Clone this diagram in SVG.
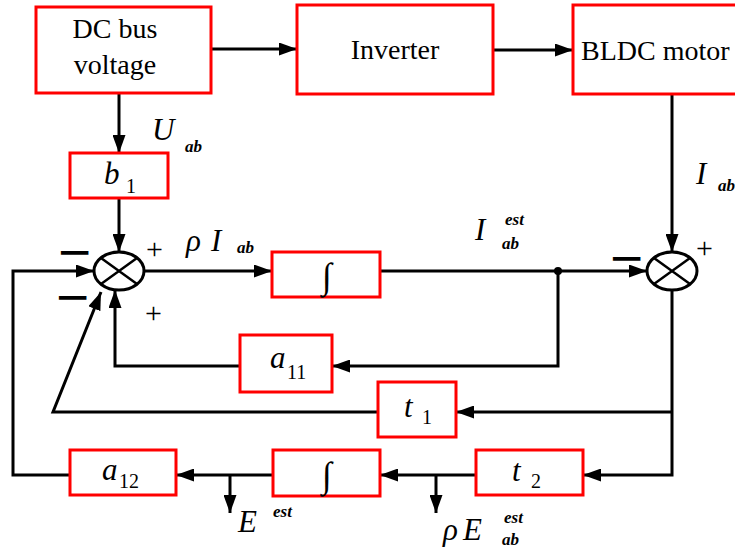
<svg xmlns="http://www.w3.org/2000/svg" width="735" height="552" viewBox="0 0 735 552">
<defs>
<style>
.box{fill:#fff;stroke:#ff0000;stroke-width:3}
.sum{fill:#fff;stroke:#000;stroke-width:3}
.ln{fill:none;stroke:#000;stroke-width:3}
.w{stroke:#000;stroke-width:2.5;fill:none}
.t{font-family:"Liberation Serif","Times New Roman",serif;font-size:28px;fill:#000}
.int{font-family:"Liberation Serif","Times New Roman",serif;font-size:36px;fill:#000}
.mi{font-family:"Liberation Serif","Times New Roman",serif;font-size:31px;font-style:italic;fill:#000}
.sub{font-family:"Liberation Serif","Times New Roman",serif;font-size:17px;font-style:italic;font-weight:bold;fill:#000}
.num{font-family:"Liberation Serif","Times New Roman",serif;font-size:20px;fill:#000}
.sg{font-family:"Liberation Serif","Times New Roman",serif;font-size:30px;fill:#000}
.mn{font-family:"Liberation Sans",Arial,sans-serif;font-size:34px;font-weight:bold;fill:#000}
</style>
<marker id="ah" markerUnits="userSpaceOnUse" markerWidth="18" markerHeight="13" refX="18" refY="6.5" orient="auto">
<path d="M0,0 L18,6.5 L0,13 z" fill="#000"/>
</marker>
</defs>
<rect width="735" height="552" fill="#fff"/>

<g id="connectors">
<path class="ln" d="M211,49 H297" marker-end="url(#ah)"/>
<path class="ln" d="M493,50 H573" marker-end="url(#ah)"/>
<path class="ln" d="M119,93 V153" marker-end="url(#ah)"/>
<path class="ln" d="M119,198 V252" marker-end="url(#ah)"/>
<path class="ln" d="M144,271 H272" marker-end="url(#ah)"/>
<path class="ln" d="M380,271 H647" marker-end="url(#ah)"/>
<circle cx="558" cy="271" r="4" fill="#000"/>
<path class="ln" d="M558,271 V366 H332" marker-end="url(#ah)"/>
<path class="ln" d="M240,366 H115 V290" marker-end="url(#ah)"/>
<path class="ln" d="M672,94 V252" marker-end="url(#ah)"/>
<path class="ln" d="M672,290 V475 H583" marker-end="url(#ah)"/>
<path class="ln" d="M672,412 H456" marker-end="url(#ah)"/>
<path class="ln" d="M378,412 H53 L101,292" marker-end="url(#ah)"/>
<path class="ln" d="M70,475 H13 V271 H94" marker-end="url(#ah)"/>
<path class="ln" d="M476,475 H380" marker-end="url(#ah)"/>
<path class="ln" d="M273,475 H176" marker-end="url(#ah)"/>
<path class="ln" d="M230,475 V513" marker-end="url(#ah)"/>
<path class="ln" d="M436,475 V513" marker-end="url(#ah)"/>
</g>

<g id="dc">
<rect class="box" x="36" y="7" width="175" height="86"/>
<text class="t" x="115" y="38" text-anchor="middle">DC bus</text>
<text class="t" x="115" y="74" text-anchor="middle">voltage</text>
</g>
<g id="inverter">
<rect class="box" x="297" y="5" width="196" height="89"/>
<text class="t" x="395" y="59" text-anchor="middle">Inverter</text>
</g>
<g id="bldc">
<rect class="box" x="573" y="5" width="180" height="89"/>
<text class="t" x="581" y="60">BLDC motor</text>
</g>
<g id="b1">
<rect class="box" x="70" y="153" width="98" height="45"/>
<text class="mi" x="104" y="184">b</text>
<text class="num" x="126" y="193">1</text>
</g>
<g id="sum1">
<ellipse class="sum" cx="119" cy="271" rx="25" ry="19"/>
<path class="w" d="M101,258 L137,284 M101,284 L137,258"/>
</g>
<g id="int1">
<rect class="box" x="272" y="252" width="108" height="45"/>
<text class="int" x="327" y="288" text-anchor="middle">∫</text>
</g>
<g id="sum2">
<ellipse class="sum" cx="672" cy="271" rx="25" ry="19"/>
<path class="w" d="M654,258 L690,284 M654,284 L690,258"/>
</g>
<g id="a11">
<rect class="box" x="240" y="335" width="92" height="57"/>
<text class="mi" x="270" y="368">a</text>
<text class="num" x="287" y="379">11</text>
</g>
<g id="t1">
<rect class="box" x="378" y="382" width="78" height="55"/>
<text class="mi" x="404" y="417">t</text>
<text class="num" x="422" y="424">1</text>
</g>
<g id="a12">
<rect class="box" x="70" y="450" width="106" height="45"/>
<text class="mi" x="102" y="480">a</text>
<text class="num" x="119" y="488">12</text>
</g>
<g id="int2">
<rect class="box" x="273" y="450" width="107" height="46"/>
<text class="int" x="327" y="487" text-anchor="middle">∫</text>
</g>
<g id="t2">
<rect class="box" x="476" y="450" width="107" height="45"/>
<text class="mi" x="512" y="481">t</text>
<text class="num" x="531" y="488">2</text>
</g>

<g id="labels">
<text class="mi" x="152" y="140">U</text>
<text class="sub" x="185" y="152">ab</text>
<text class="mi" x="186" y="251">ρ</text>
<text class="mi" x="211" y="251">I</text>
<text class="sub" x="237" y="253">ab</text>
<text class="mi" x="475" y="240">I</text>
<text class="sub" x="505" y="225">est</text>
<text class="sub" x="502" y="249">ab</text>
<text class="mi" x="696" y="184">I</text>
<text class="sub" x="718" y="191">ab</text>
<text class="mi" x="238" y="532">E</text>
<text class="sub" x="273" y="517">est</text>
<text class="mi" x="443" y="540">ρ</text>
<text class="mi" x="463" y="540">E</text>
<text class="sub" x="504" y="523">est</text>
<text class="sub" x="502" y="545">ab</text>
<text class="mn" x="59" y="264" textLength="32" lengthAdjust="spacingAndGlyphs">−</text>
<text class="mn" x="57" y="309" textLength="32" lengthAdjust="spacingAndGlyphs">−</text>
<text class="sg" x="146" y="259">+</text>
<text class="sg" x="145" y="323">+</text>
<text class="mn" x="611" y="270" textLength="32" lengthAdjust="spacingAndGlyphs">−</text>
<text class="sg" x="696" y="258">+</text>
</g>
</svg>
